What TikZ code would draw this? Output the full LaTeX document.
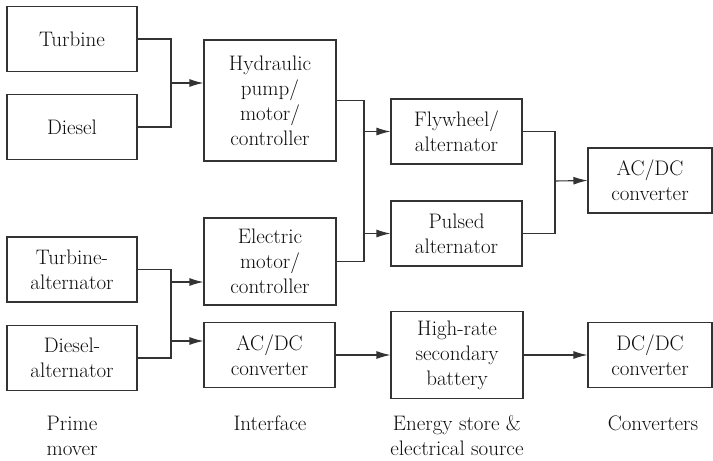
\documentclass[tikz,border=0pt]{standalone}
\usepackage{tikz}
\usetikzlibrary{positioning,arrows.meta,calc}
\definecolor{ink}{gray}{0.05}
\definecolor{line}{gray}{0.20}
\tikzset{
  box/.style={draw=line, line width=1.1pt, fill=white, align=center, text=ink,
              inner sep=0pt, font=\fontsize{21}{25}\selectfont},
  wire/.style={draw=line, line width=1.1pt},
  flow/.style={-{Latex[length=14pt,width=8pt]}, draw=line, line width=1.1pt},
  lbl/.style={align=center, text=ink, font=\fontsize{21}{25}\selectfont},
}
\begin{document}
\begin{tikzpicture}[x=1pt, y=-1pt,
                    box/.append style={minimum width=130pt, minimum height=65pt}]
    \useasboundingbox (0,0) rectangle (713,461);
    % prime movers
    \node[box] (turb)  at (72,39)    {Turbine};
    \node[box] (dies)  at (72,127)   {Diesel};
    \node[box] (tbalt) at (72,269.5) {Turbine-\\alternator};
    \node[box] (dsalt) at (72,358)   {Diesel-\\alternator};
    % interface
    \node[box, minimum width=132pt, minimum height=121pt] (hyd) at (270,100.5) {Hydraulic\\pump/\\motor/\\controller};
    \node[box, minimum width=132pt, minimum height=87pt]  (elec) at (270,261.5) {Electric\\motor/\\controller};
    \node[box, minimum width=131pt] (acdc1) at (269.5,355) {AC/DC\\converter};
    % energy store
    \node[box, minimum width=131pt] (fly)  at (456.5,131.5) {Flywheel/\\alternator};
    \node[box, minimum width=131pt] (puls) at (456.5,233.5) {Pulsed\\alternator};
    \node[box, minimum width=132pt, minimum height=87pt] (batt) at (457,355) {High-rate\\secondary\\battery};
    % converters
    \node[box, minimum width=124pt] (acdc2) at (650,180.5) {AC/DC\\converter};
    \node[box, minimum width=124pt] (dcdc)  at (650,355)   {DC/DC\\converter};

    \coordinate (j1) at (171,83);
    \coordinate (j2) at (364,100);
    \coordinate (j3) at (555,181);
    \coordinate (j4) at (171,282);
    \coordinate (j5) at (171,341);

    \draw[wire] (turb.east) -| (j1) |- (dies.east);
    \draw[flow] (j1) -- (j1 -| hyd.west);
    \draw[wire] (hyd.east) -| (j2 |- elec.east) -- (elec.east);
    \draw[flow] (j2 |- fly.west) -- (fly.west);
    \draw[flow] (j2 |- puls.west) -- (puls.west);
    \draw[wire] (fly.east) -| (j3) |- (puls.east);
    \draw[flow] (j3) -- (acdc2.west);
    \draw[wire] (tbalt.east) -| (j4) -- (j5) |- (dsalt.east);
    \draw[flow] (j4) -- (j4 -| elec.west);
    \draw[flow] (j5) -- (j5 -| acdc1.west);
    \draw[flow] (acdc1) -- (batt);
    \draw[flow] (batt) -- (dcdc);

    \node[lbl] (lprime) at (72,435.5)  {Prime\\mover};
    \node[lbl] (linter) at (270,423)   {Interface};
    \node[lbl] (lstore) at (457,435.5) {Energy store \&\\electrical source};
    \node[lbl] (lconv)  at (653,423)   {Converters};
  \end{tikzpicture}
\end{document}
